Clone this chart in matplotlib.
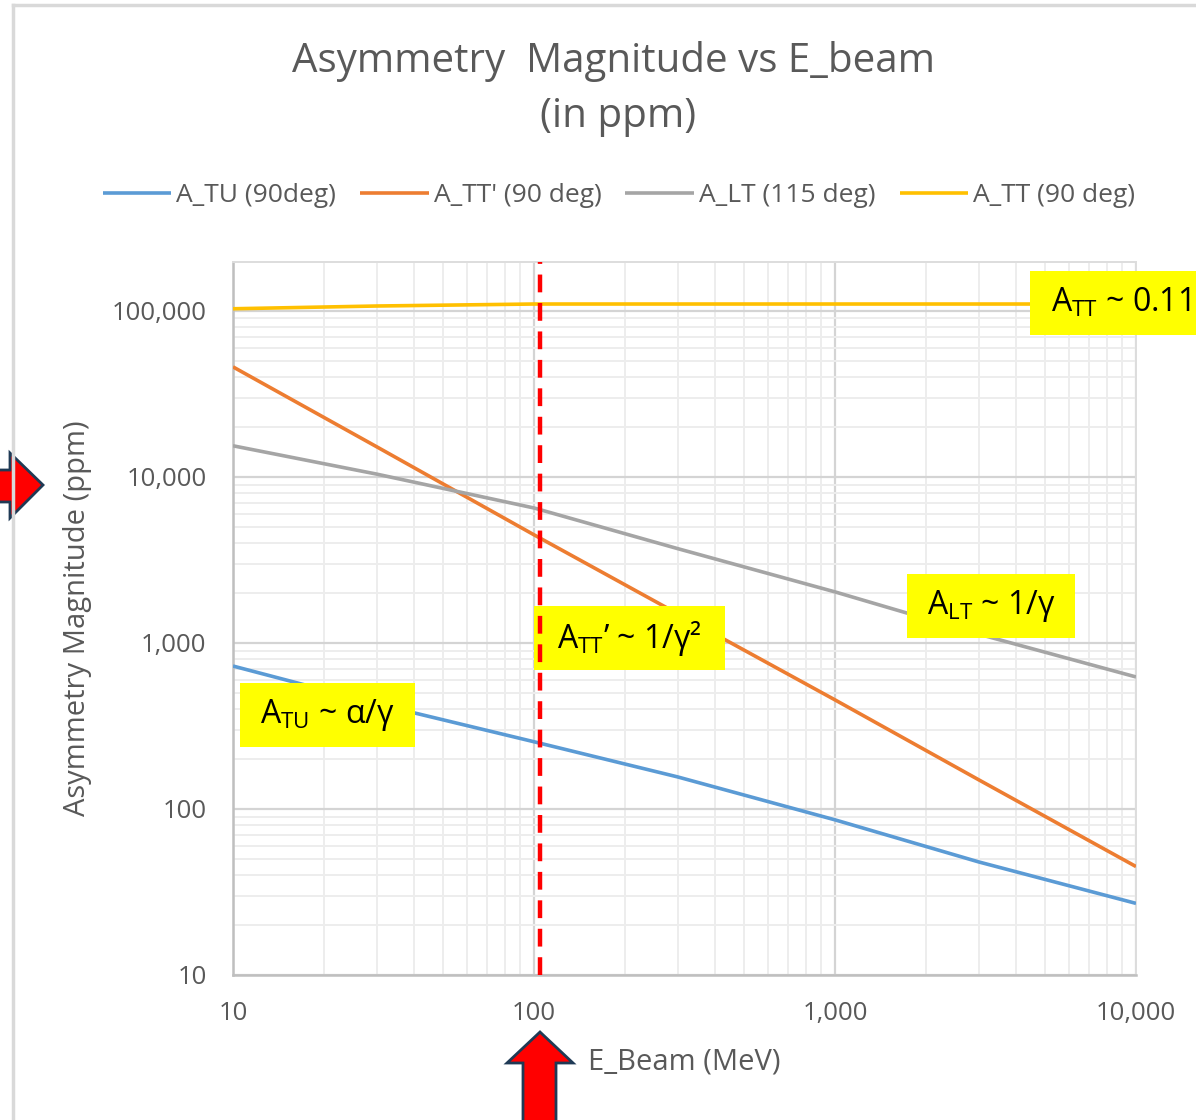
import numpy as np
import matplotlib
matplotlib.use('Agg')
import matplotlib.pyplot as plt
from matplotlib.patches import Rectangle, Polygon
from matplotlib.ticker import LogLocator, FuncFormatter, NullFormatter

plt.rcParams['font.family'] = ['Open Sans', 'DejaVu Sans']
plt.rcParams['mathtext.fontset'] = 'custom'
plt.rcParams['mathtext.rm'] = 'Open Sans'
plt.rcParams['mathtext.it'] = 'Open Sans:italic'

# beam energy (MeV) and asymmetry magnitudes (ppm)
e_beam = [10, 30, 100, 300, 1000, 3000, 10000]
a_tu = [726, 430, 254, 156, 86, 48, 27]
a_ttp = [46000, 15200, 4480, 1500, 454, 150, 45]
a_lt = [15400, 10400, 6500, 3700, 2030, 1130, 624]
a_tt = [103000, 107000, 110000, 110000, 110000, 110000, 110000]

series_names = ["A_TU (90deg)", "A_TT' (90 deg)", "A_LT (115 deg)", "A_TT (90 deg)"]
series_colors = ['#5B9BD5', '#ED7D31', '#A5A5A5', '#FFC000']
e_marker = 105  # red dashed line

W, H = 1196, 1120
gray_txt = '#595959'


def fx(x):
    return x / W


def fy(y):
    return 1 - y / H


fig = plt.figure(figsize=(W / 100, H / 100), dpi=100)
ax = fig.add_axes([fx(233), fy(975), fx(1136) - fx(233), fy(262) - fy(975)])

for vals, name, c in zip([a_tu, a_ttp, a_lt, a_tt], series_names, series_colors):
    ax.plot(e_beam, vals, color=c, lw=2.6, label=name, zorder=3,
            solid_capstyle='butt')

ax.set_xscale('log')
ax.set_yscale('log')
ax.set_xlim(10, 10000)
ax.set_ylim(10, 197000)

fmt = FuncFormatter(lambda v, p: '{:,.0f}'.format(v))
for axis in (ax.xaxis, ax.yaxis):
    axis.set_major_locator(LogLocator(base=10))
    axis.set_minor_locator(LogLocator(base=10, subs=np.arange(2, 10)))
    axis.set_major_formatter(fmt)
    axis.set_minor_formatter(NullFormatter())

ax.grid(True, which='major', color='#D4D4D4', lw=1.6, zorder=0)
ax.grid(True, which='minor', color='#EDEDED', lw=1.4, zorder=0)
ax.set_axisbelow(True)
ax.tick_params(which='both', length=0, labelsize=18.5, colors=gray_txt)
ax.tick_params(axis='y', pad=19)
ax.tick_params(axis='x', pad=19)
for s in ['left', 'bottom']:
    ax.spines[s].set_color('#BFBFBF')
    ax.spines[s].set_linewidth(1.8)
for s in ['top', 'right']:
    ax.spines[s].set_color('#DDDDDD')
    ax.spines[s].set_linewidth(1.4)

ax.set_ylabel('Asymmetry Magnitude (ppm)', fontsize=21, color=gray_txt, labelpad=14)
ax.set_xlabel('E_Beam (MeV)', fontsize=21, color=gray_txt, labelpad=15)

ax.axvline(e_marker, color='#FF0000', lw=3.2, dashes=(4, 2.4), zorder=5)

fig.text(fx(613), fy(62), 'Asymmetry  Magnitude vs E_beam', ha='center', va='center',
         fontsize=29, color=gray_txt)
fig.text(fx(618), fy(117), '(in ppm)', ha='center', va='center',
         fontsize=29, color=gray_txt)

fig.legend(loc='center', bbox_to_anchor=(fx(619), fy(196)), ncol=4, frameon=False,
           fontsize=19, labelcolor=gray_txt, handlelength=2.6, handletextpad=0.2,
           columnspacing=0.9)

# frame of the chart area
fig.add_artist(plt.Line2D([fx(13), fx(13)], [fy(5), 0], color='#D9D9D9', lw=2.5,
                          transform=fig.transFigure))
fig.add_artist(plt.Line2D([fx(13), 1], [fy(5), fy(5)], color='#D9D9D9', lw=2.5,
                          transform=fig.transFigure))

# yellow note boxes
notes = [
    ((1030, 271, 1200, 335), 1121, r'A$_{\mathrm{TT}}$ ~ 0.11'),
    ((907, 574, 1075, 638), 991, r'A$_{\mathrm{LT}}$ ~ 1/γ'),
    ((534, 606, 725, 670), 629, 'A$_{\\mathrm{TT}}$’ ~ 1/γ²'),
    ((240, 683, 415, 747), 327, r'A$_{\mathrm{TU}}$ ~ α/γ'),
]
for (x0, y0, x1, y1), xc, txt in notes:
    ax.add_patch(Rectangle((fx(x0), fy(y1)), fx(x1) - fx(x0), fy(y0) - fy(y1),
                           transform=fig.transFigure, facecolor='#FFFF00',
                           edgecolor='none', clip_on=False, zorder=4))
    ax.text(fx(xc), fy((y0 + y1) / 2), txt, transform=fig.transFigure,
            ha='center', va='center', fontsize=23, color='black',
            clip_on=False, zorder=6)

# red arrows
left_arrow = [(-5, 470), (10, 470), (10, 453), (43, 485), (10, 518), (10, 502), (-5, 502)]
up_arrow = [(540, 1032), (573, 1063), (556, 1063), (556, 1125), (523, 1125),
            (523, 1063), (507, 1063)]
for pts in (left_arrow, up_arrow):
    fig.add_artist(Polygon([(fx(a), fy(b)) for a, b in pts], closed=True,
                           facecolor='#FF0000', edgecolor='#1F3A55', lw=2,
                           transform=fig.transFigure))

fig.savefig('out.png', dpi=100)
